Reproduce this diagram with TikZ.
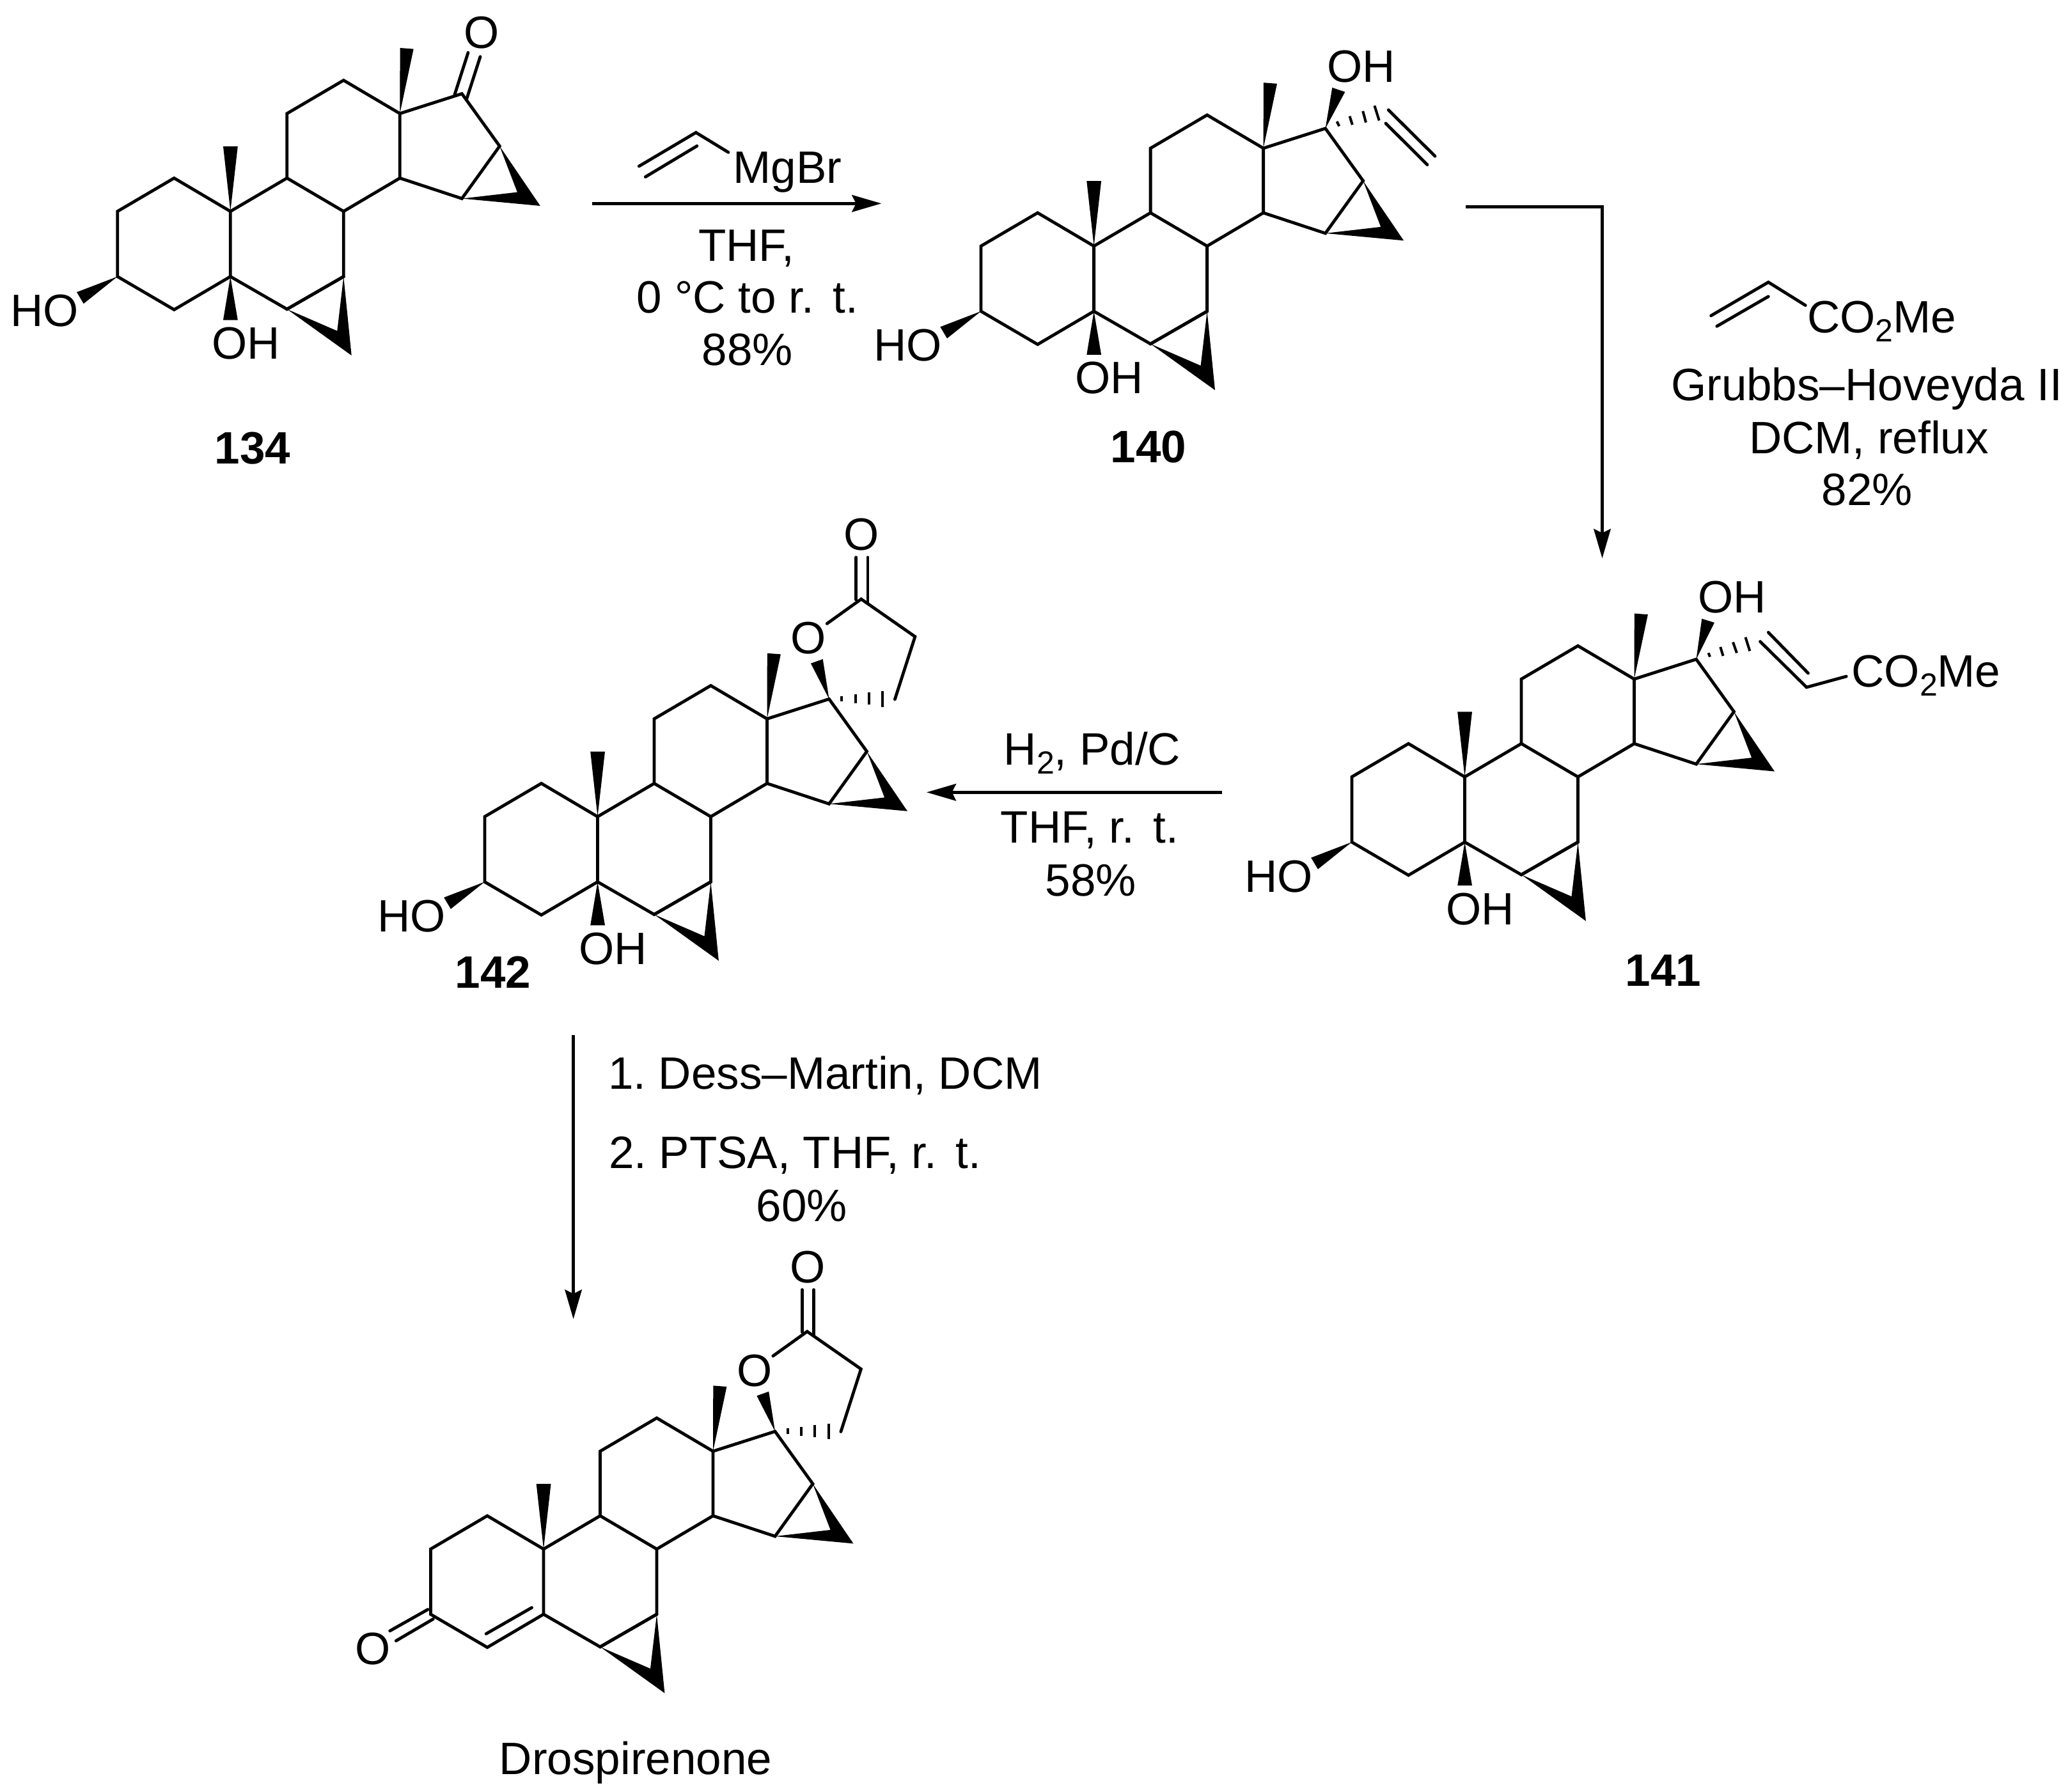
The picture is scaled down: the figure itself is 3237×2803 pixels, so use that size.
\documentclass[tikz,border=0pt]{standalone}
\usepackage{fontspec}
\setmainfont{Liberation Sans}
\usetikzlibrary{arrows.meta}
\frenchspacing
\newcommand\lowtwo{\raisebox{-3.5pt}{\fontsize{12.5pt}{14pt}\selectfont 2}}
\newcommand\roomtemp{r.\hspace{0.42em}t.}
\tikzset{
  bond/.style={line width=1.2pt,line cap=round,line join=miter,black},
  wedge/.style={fill=black,draw=none},
  hashbar/.style={line width=1pt,black},
  rxn/.style={line width=1.2pt,black,-{Stealth[length=11.5pt,width=6.6pt,inset=1.6pt]}},
  chem/.style={inner sep=0pt,outer sep=0pt,font=\fontsize{17.75pt}{20pt}\selectfont},
  numlabel/.style={chem,font=\fontsize{17.75pt}{20pt}\selectfont\bfseries},
}
% steroid skeleton: name, x and y of C10
\newcommand\steroidcore[3]{%
\begin{scope}[shift={(#2,#3)}]
\coordinate (#1c10) at (0,0);
\coordinate (#1c1) at (-88,-52);
\coordinate (#1c2) at (-176.6,0);
\coordinate (#1c3) at (-176.6,102);
\coordinate (#1c4) at (-88,153.8);
\coordinate (#1c5) at (0,102);
\coordinate (#1c6) at (88.5,153);
\coordinate (#1c7) at (177,102);
\coordinate (#1c8) at (177,0);
\coordinate (#1c9) at (88.5,-52);
\coordinate (#1c11) at (88.5,-153);
\coordinate (#1c12) at (177,-205);
\coordinate (#1c13) at (265,-153);
\coordinate (#1c14) at (265,-52);
\coordinate (#1c17) at (362,-184);
\coordinate (#1c16) at (421,-102);
\coordinate (#1c15) at (362,-20);
\draw[bond] (#1c5) -- (#1c4) -- (#1c3) -- (#1c2) -- (#1c1) -- (#1c10) -- (#1c5) -- (#1c6) -- (#1c7) -- (#1c8) -- (#1c9) -- (#1c10);
\draw[bond] (#1c9) -- (#1c11) -- (#1c12) -- (#1c13) -- (#1c14) -- (#1c8);
\draw[bond] (#1c13) -- (#1c17) -- (#1c16) -- (#1c15) -- (#1c14);
\draw[bond] (#1c6) -- (#1c7);
\fill[wedge] (#1c7) -- (189.4,225.4) -- (#1c6) -- (167,187) -- cycle;
\fill[wedge] (#1c16) -- (484.5,-8.6) -- (#1c15) -- (448.6,-30) -- cycle;
\fill[wedge] (#1c10) -- (-11.3,-101.8) -- (11.5,-101.8) -- cycle;
\fill[wedge] (#1c13) -- (265.3,-255.6) -- (286.4,-254) -- cycle;
\end{scope}}
% 3-OH and 5-OH
\newcommand\diol[3]{%
\begin{scope}[shift={(#2,#3)}]
\fill[wedge] (#1c3) -- (-240.3,126.4) -- (-229.6,144.4) -- cycle;
\fill[wedge] (#1c5) -- (-11.3,170) -- (11.5,170) -- cycle;
\node[chem,anchor=base west] (#1ho) at (-344,180) {HO};
\node[chem,anchor=base west] (#1oh) at (-29,231) {OH};
\end{scope}}
% spiro lactone
\newcommand\lactone[3]{%
\begin{scope}[shift={(#2,#3)}]
\coordinate (#1lc) at (412.2,-340.3);
\coordinate (#1lb) at (496.4,-281.6);
\coordinate (#1la) at (464.9,-183.6);
\coordinate (#1lo) at (358.8,-302);
\fill[wedge] (#1c17) -- (333.4,-239.7) -- (352.2,-246.4) -- cycle;
\node[chem] (#1oring) at (329.8,-279.4) {O};
\node[chem] (#1ocarb) at (412.8,-441) {O};
\draw[bond] (#1lo) -- (#1lc) -- (#1lb) -- (#1la);
\draw[bond] (404.3,-405.6) -- (404.3,-339.4);
\draw[bond] (422.5,-405.6) -- (422.5,-334.4);
\draw[hashbar] (381.9,-188.7) -- (381.9,-180.1);
\draw[hashbar] (403.1,-191.4) -- (403.1,-177.4);
\draw[hashbar] (424.3,-194.4) -- (424.3,-175);
\draw[hashbar] (445.5,-196.4) -- (445.5,-171.9);
\end{scope}}
\begin{document}
\begin{tikzpicture}[x=0.25pt,y=-0.25pt]
\useasboundingbox (0,0) rectangle (3237,2803);

% ---------- 134
\steroidcore{a}{360.3}{330.6}
\diol{a}{360.3}{330.6}
\node[chem] (ao) at (753,51) {O};
\draw[bond] (711,148) -- (732,82.4);
\draw[bond] (730,154) -- (751,88.7);
\node[numlabel,anchor=base] (l134) at (395,725.6) {134};

% ---------- 140
\steroidcore{b}{1710.6}{384.9}
\diol{b}{1710.6}{384.9}
\fill[wedge] (bc17) -- (2083.3,137.1) -- (2103.3,143.8) -- cycle;
\node[chem,anchor=base west] (boh) at (2075.5,129) {OH};
\draw[hashbar] (2090.6,190) -- (2094.2,197.4);
\draw[hashbar] (2110.6,181.8) -- (2114.8,195.2);
\draw[hashbar] (2131.2,173.8) -- (2136,191.6);
\draw[hashbar] (2149.4,165.3) -- (2156.7,188.5);
\draw[bond] (2171.2,172) -- (2244,244.3);
\draw[bond] (2167,193) -- (2232,257.7);
\node[numlabel,anchor=base] (l140) at (1796,724) {140};

% ---------- 141
\steroidcore{c}{2290.5}{1215.2}
\diol{c}{2290.5}{1215.2}
\fill[wedge] (cc17) -- (2661.3,967.8) -- (2680.9,973.9) -- cycle;
\node[chem,anchor=base west] (coh) at (2655,958.6) {OH};
\draw[hashbar] (2671.5,1021.3) -- (2674,1027.4);
\draw[hashbar] (2690.3,1012) -- (2694.5,1026);
\draw[hashbar] (2710,1004.5) -- (2715.9,1021.3);
\draw[hashbar] (2729.5,996.8) -- (2736.3,1018.3);
\coordinate (cv1) at (2752.5,1003.5);
\coordinate (cv2) at (2825,1075);
\coordinate (cv3) at (2887.2,1058);
\draw[bond] (cv1) -- (cv2) -- (cv3);
\draw[bond] (2765.3,989.2) -- (2827.5,1053);
\node[chem,anchor=base west] (cest) at (2895.5,1075) {CO\lowtwo Me};
\node[numlabel,anchor=base] (l141) at (2601,1542) {141};

% ---------- 142
\steroidcore{d}{934.5}{1277.4}
\diol{d}{934.5}{1277.4}
\lactone{d}{934.5}{1277.4}
\node[numlabel,anchor=base] (l142) at (771,1545) {142};

% ---------- drospirenone
\steroidcore{e}{850}{2423}
\lactone{e}{850}{2423}
\begin{scope}[shift={(850,2423)}]
\node[chem] (eo) at (-267,155.6) {O};
\draw[bond] (-240.3,128) -- (-181,94.5);
\draw[bond] (-230.7,143.5) -- (-172.7,109.5);
\draw[bond] (-89.8,132.5) -- (-18.4,91.6);
\end{scope}
\node[chem,anchor=base] (ldro) at (994,2775) {Drospirenone};

% ---------- arrow 1
\coordinate (r1s) at (926,318.3);
\coordinate (r1e) at (1378.3,318.3);
\draw[rxn] (r1s) -- (r1e);
\coordinate (gv1) at (999.3,260);
\coordinate (gv2) at (1088.3,207.3);
\coordinate (gv3) at (1139,238.3);
\draw[bond] (gv1) -- (gv2) -- (gv3);
\draw[bond] (1009.3,276.7) -- (1090,228.3);
\node[chem,anchor=base west] (mgbr) at (1146.7,286.7) {MgBr};
\node[chem,anchor=base] (t1a) at (1167,408.3) {THF,};
\node[chem,anchor=base] (t1b) at (1169,490) {0 °C to \roomtemp};
\node[chem,anchor=base] (t1c) at (1169,571.7) {88\%};

% ---------- arrow 2
\coordinate (r2s) at (2292,323.4);
\coordinate (r2c) at (2505.5,323.4);
\coordinate (r2e) at (2505.5,873.4);
\draw[rxn] (r2s) -- (r2c) -- (r2e);
\coordinate (av1) at (2675.6,493.8);
\coordinate (av2) at (2765.3,441.4);
\coordinate (av3) at (2823.3,477.6);
\draw[bond] (av1) -- (av2) -- (av3);
\draw[bond] (2684.8,510.3) -- (2765.3,463.8);
\node[chem,anchor=base west] (aest) at (2826,520.7) {CO\lowtwo Me};
\node[chem,anchor=base] (t2a) at (2919,626.6) {Grubbs–Hoveyda II};
\node[chem,anchor=base] (t2b) at (2922.5,709.3) {DCM, reflux};
\node[chem,anchor=base] (t2c) at (2920,790.3) {82\%};

% ---------- arrow 3
\coordinate (r3s) at (1910.7,1239.3);
\coordinate (r3e) at (1449,1239.3);
\draw[rxn] (r3s) -- (r3e);
\node[chem,anchor=base] (t3a) at (1708,1196.7) {H\lowtwo, Pd/C};
\node[chem,anchor=base] (t3b) at (1704,1318.3) {THF, \roomtemp};
\node[chem,anchor=base] (t3c) at (1706,1401) {58\%};

% ---------- arrow 4
\coordinate (r4s) at (896.6,1619);
\coordinate (r4e) at (896.6,2063.3);
\draw[rxn] (r4s) -- (r4e);
\node[chem,anchor=base west] (t4a) at (951,1703.3) {1. Dess–Martin, DCM};
\node[chem,anchor=base west] (t4b) at (952,1827.7) {2. PTSA, THF, \roomtemp};
\node[chem,anchor=base] (t4c) at (1254,1910) {60\%};
\end{tikzpicture}
\end{document}
